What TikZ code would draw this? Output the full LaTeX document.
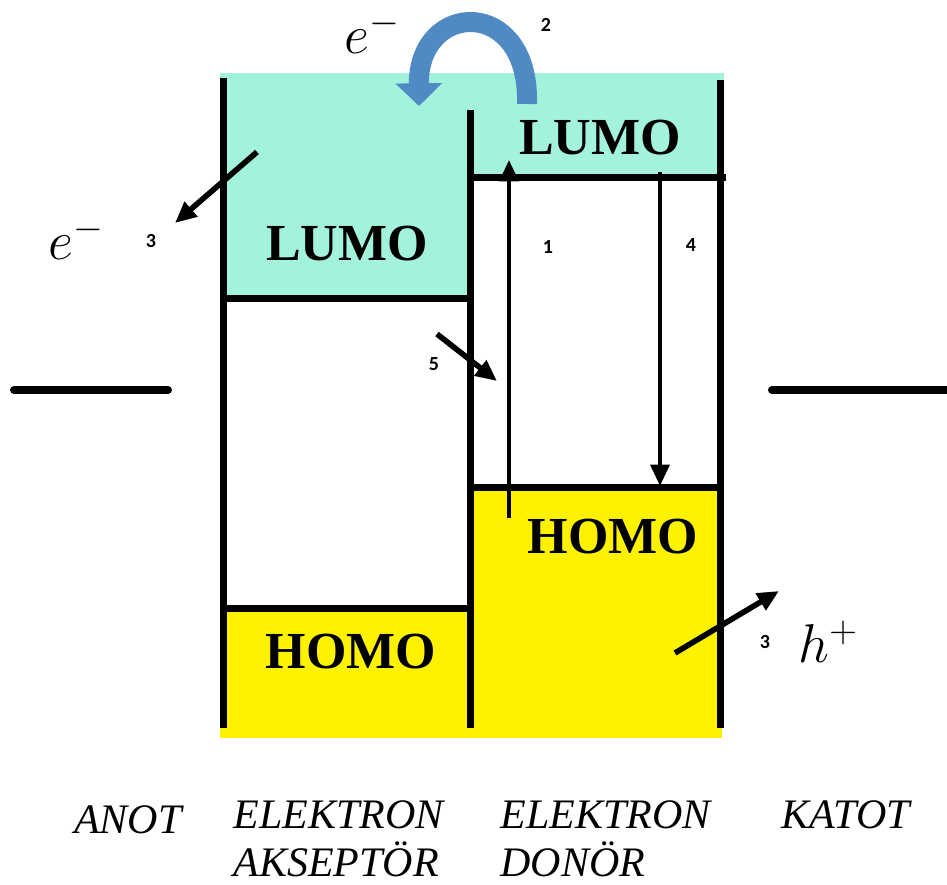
\RequirePackage{fix-cm}
\documentclass[tikz,border=0pt]{standalone}
\usepackage{fontspec}
\setmainfont{Liberation Serif}
\newfontfamily\numfont{Carlito}
\usetikzlibrary{arrows.meta}

\definecolor{lumoteal}{RGB}{163,242,220}
\definecolor{homoyellow}{RGB}{255,242,0}
\definecolor{jumpblue}{RGB}{80,138,196}

\tikzset{every picture/.style={line width=0.75pt}}
\tikzset{
  wall/.style={line width=5.25pt},
  orbital/.style={font=\fontsize{39}{44}\selectfont\bfseries},
  layer/.style={font=\fontsize{31.5}{36}\selectfont\itshape, align=left, inner sep=0pt},
  stepno/.style={font=\fontsize{15}{18}\selectfont\numfont\bfseries, inner sep=0pt},
  charge/.style={font=\fontsize{41}{46}\selectfont, inner sep=0pt},
  transfer/.style={line width=3.2pt, -{Triangle[length=16pt,width=14pt]}},
  outflow/.style={transfer, line width=4.2pt},
}

\begin{document}
\begin{tikzpicture}[x=0.75pt,y=0.75pt,yscale=-1,xscale=1]
\path[use as bounding box] (0,0) rectangle (947,885);

%Shape: Polygon LUMO fill
\fill [lumoteal] (220,73) -- (724,73) -- (724,177) -- (470,177) -- (470,298) -- (220,298) -- cycle ;
%Shape: Rectangle HOMO fill (akseptor)
\fill [homoyellow] (220,608) rectangle (470,738) ;
%Shape: Rectangle HOMO fill (donor)
\fill [homoyellow] (470,487) rectangle (722,738) ;

%Straight Lines walls
\draw [wall] (223,78) -- (223,728) ;
\draw [wall] (470,110) -- (470,728) ;
\draw [wall] (720,80) -- (720,728) ;
%Straight Lines levels
\draw [wall] (223,298) -- (470,298) ;
\draw [wall] (223,608) -- (470,608) ;
\draw [wall] (470,177) -- (726,177) ;
\draw [wall] (470,487) -- (720,487) ;

%Straight Lines electrodes
\draw [line width=6pt, line cap=round] (14,390) -- (168,390) ;
\draw [line width=6pt, line cap=round] (772,390) -- (947,390) ;

% Text Node
\node [orbital] (lumoA) at (347,244) {LUMO};
% Text Node
\node [orbital] (lumoD) at (600,138) {LUMO};
% Text Node
\node [orbital] (homoD) at (613,537) {HOMO};
% Text Node
\node [orbital] (homoA) at (351,652) {HOMO};

%Coordinates for the arrows
\coordinate (exBot) at (509,518) ;
\coordinate (exTop) at (509,160) ;
\coordinate (reTop) at (660,172) ;
\coordinate (reBot) at (660,486) ;
\coordinate (hoStart) at (437,334) ;
\coordinate (hoEnd) at (497,381) ;
\coordinate (elStart) at (257,152) ;
\coordinate (elEnd) at (175,223) ;
\coordinate (hpStart) at (675,653) ;
\coordinate (hpEnd) at (779,591) ;
\coordinate (jumpStart) at (527,104) ;
\coordinate (jumpEnd) at (419,106) ;

%Arrows
\draw [transfer] (exBot) -- (exTop) ;
\draw [transfer] (reTop) -- (reBot) ;
\draw [outflow] (hoStart) -- (hoEnd) ;
\draw [outflow] (elStart) -- (elEnd) ;
\draw [outflow] (hpStart) -- (hpEnd) ;
%Curved Arrow
\draw [jumpblue, line width=15pt, -{Triangle[length=17pt,width=34pt]}] (jumpStart) .. controls (530,-4) and (418,0) .. (jumpEnd) ;

% Text Node
\node [stepno] (n1) at (548,247) {1};
% Text Node
\node [stepno] (n4) at (691,245) {4};
% Text Node
\node [stepno] (n5) at (434,364) {5};
% Text Node
\node [stepno] (n3a) at (151,241) {3};
% Text Node
\node [stepno] (n3b) at (765,642) {3};
% Text Node
\node [stepno] (n2) at (546,25) {2};

% Text Node
\node [charge] (eTop) at (372,32) {$e^{-}$};
% Text Node
\node [charge] (eLeft) at (76,238) {$e^{-}$};
% Text Node
\node [charge] (hRight) at (828,642) {$h^{+}$};

% Text Node
\node [layer] (anot) at (128,820) {ANOT};
% Text Node
\node [layer, anchor=north west] (akseptor) at (233,800) {ELEKTRON\\AKSEPTÖR};
% Text Node
\node [layer, anchor=north west] (donor) at (500,800) {ELEKTRON\\DONÖR};
% Text Node
\node [layer] (katot) at (846,815) {KATOT};

\end{tikzpicture}
\end{document}
